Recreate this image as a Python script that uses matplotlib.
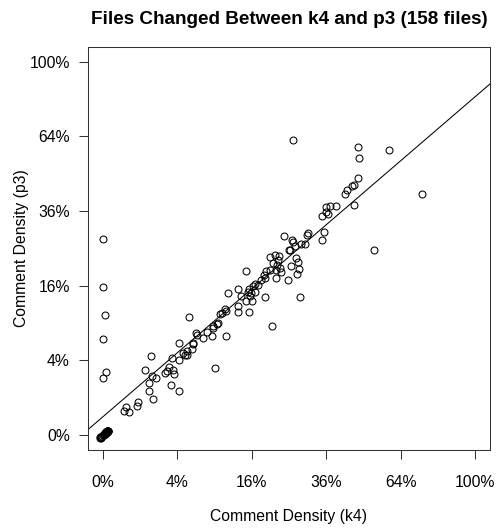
import numpy as np
import matplotlib
matplotlib.use("Agg")
import matplotlib.pyplot as plt

plt.rcParams["font.family"] = ["Liberation Sans", "DejaVu Sans"]

# comment density per file (fraction of lines), k4 vs p3
k4_density = [
    # files with (almost) no comments in either release
    0.0, -0.00004, 0.00003, 0.00008, -0.00002, 0.00012, 0.00005, -0.00006,
    0.00010, 0.00001, 0.00015, -0.00003, 0.00006, 0.00020, 0.00002, -0.00005,
    0.00009, 0.00013, 0.00004, 0.00017, -0.00001, 0.00007, 0.00011, 0.00003,
    0.00018, 0.00006, 0.00014, -0.00004, 0.00009, 0.00002, 0.00016, 0.00008,
    0.00012, 0.00004, 0.00010, 0.00001,
    # comments added in p3
    0.0, 0.0, 0.00002, 0.0, 0.00007, 0.0,
    0.00337, 0.00380, 0.00510, 0.00829, 0.00879,
    0.01286, 0.01518, 0.01563, 0.01699, 0.01723, 0.01794, 0.02041,
    0.02788, 0.03000, 0.03125, 0.03318, 0.03416, 0.03516, 0.03685, 0.04144,
    0.04181, 0.04181,
    0.04669, 0.04903, 0.05063, 0.05143, 0.05307, 0.05683, 0.05811, 0.05898,
    0.0625, 0.06340, 0.07271,
    0.07860, 0.08577, 0.08681, 0.09107, 0.08787, 0.09434, 0.09544, 0.09878,
    0.1016, 0.1085, 0.1097, 0.1091,
    0.1127, 0.1314, 0.1321, 0.1327, 0.1386, 0.1474, 0.1488, 0.1522, 0.1536,
    0.1543, 0.1557, 0.1593, 0.1614, 0.1629, 0.1665, 0.1680, 0.1739, 0.1814,
    0.1867, 0.1891, 0.1898, 0.1930, 0.2009, 0.2025, 0.2065, 0.2090, 0.2131,
    0.2156, 0.2172, 0.2189, 0.2214, 0.2239, 0.2256, 0.2299, 0.2377, 0.2482,
    0.25, 0.2536, 0.2563, 0.2572, 0.2608, 0.2599, 0.2654, 0.2682, 0.2719,
    0.2756, 0.2775, 0.2803, 0.2841, 0.2937, 0.3005, 0.3035, 0.3452, 0.3452,
    0.3515, 0.3579, 0.36, 0.3665, 0.3730, 0.3906, 0.4248, 0.4295, 0.4484,
    0.4556, 0.4556, 0.4702, 0.4714, 0.4739, 0.5308, 0.5896, 0.7332,
]
p3_density = [
    0.0, -0.00003, 0.00002, 0.00006, -0.00005, 0.00010, 0.00003, -0.00004,
    0.00007, 0.00001, 0.00012, -0.00002, 0.00004, 0.00015, 0.00001, -0.00006,
    0.00006, 0.00009, 0.00002, 0.00013, -0.00001, 0.00005, 0.00008, 0.00001,
    0.00014, 0.00004, 0.00010, -0.00003, 0.00007, 0.00001, 0.00012, 0.00005,
    0.00009, 0.00003, 0.00008, 0.0,
    0.2747, 0.1564, 0.1027, 0.0666, 0.0285, 0.0236,
    0.00402, 0.00549, 0.00391, 0.00617, 0.00781,
    0.03063, 0.01940, 0.01410, 0.04440, 0.02469, 0.00913, 0.02331,
    0.02758, 0.02908, 0.03285, 0.01794, 0.04254, 0.03063, 0.02641, 0.04,
    0.01389, 0.06117,
    0.04824, 0.04592, 0.04630, 0.05022, 0.1005, 0.05348, 0.05985, 0.06073,
    0.07465, 0.07223, 0.06751,
    0.07661, 0.07032, 0.08163, 0.03253, 0.08577, 0.08840, 0.09, 0.1050,
    0.1068, 0.1145, 0.06985, 0.1097,
    0.1454, 0.1188, 0.1091, 0.1529, 0.1380, 0.1922, 0.1282, 0.1467, 0.1091,
    0.1529, 0.1380, 0.1447, 0.1295, 0.1586, 0.1636, 0.1460, 0.1621, 0.1731,
    0.1844, 0.1776, 0.1360, 0.1922, 0.1961, 0.2273, 0.08472, 0.2123, 0.2333,
    0.1768, 0.1961, 0.2082, 0.2206, 0.2290, 0.2001, 0.1898, 0.2841, 0.1731,
    0.2447, 0.2464, 0.2049, 0.2738, 0.2663, 0.6230, 0.2554, 0.2239, 0.1867,
    0.2147, 0.1977, 0.1360, 0.2627, 0.2627, 0.2879, 0.2928, 0.2728, 0.3452,
    0.2947, 0.3557, 0.3730, 0.3494, 0.3752, 0.3752, 0.4156, 0.4318, 0.4449,
    0.4496, 0.3806, 0.5951, 0.4727, 0.5505, 0.2456, 0.5828, 0.4179,
]

# least-squares line on the square-root scale
fit_intercept = 0.049
fit_slope = 0.857

tick_values = [0.0, 0.04, 0.16, 0.36, 0.64, 1.0]
tick_labels = ["0%", "4%", "16%", "36%", "64%", "100%"]


def ssqrt(v):
    v = np.asarray(v, dtype=float)
    return np.sign(v) * np.sqrt(np.abs(v))


def ssquare(s):
    s = np.asarray(s, dtype=float)
    return np.sign(s) * s * s


fig = plt.figure(figsize=(4.96, 5.29), dpi=100)
ax = fig.add_axes([0.1774, 0.1493, 0.8105, 0.7624])

ax.set_xscale("function", functions=(ssqrt, ssquare))
ax.set_yscale("function", functions=(ssqrt, ssquare))

ax.plot(k4_density, p3_density, linestyle="none", marker="o",
        markersize=5.0, markerfacecolor="none", markeredgecolor="black",
        markeredgewidth=0.75)

# straight line in sqrt space, drawn through two points
x0, x1 = 0.0, 1.0
y0 = float(ssquare(fit_intercept + fit_slope * np.sqrt(x0)))
y1 = float(ssquare(fit_intercept + fit_slope * np.sqrt(x1)))
ax.axline((x0, y0), (x1, y1), color="black", linewidth=0.75)

lim = (float(ssquare(-0.04)), float(ssquare(1.04)))
ax.set_xlim(lim)
ax.set_ylim(lim)

ax.set_xticks(tick_values)
ax.set_xticklabels(tick_labels)
ax.set_yticks(tick_values)
ax.set_yticklabels(tick_labels)
ax.minorticks_off()
ax.tick_params(axis="both", direction="out", length=6.7, width=0.75,
               labelsize=11.3, color="#333333")
ax.tick_params(axis="x", pad=11)
ax.tick_params(axis="y", pad=6.5)

for sp in ax.spines.values():
    sp.set_linewidth(0.75)
    sp.set_color("#333333")

fig.text(289 / 496, 1 - 516 / 529, "Comment Density (k4)",
         ha="center", va="center", fontsize=11.3)
fig.text(22 / 496, 1 - 248 / 529, "Comment Density (p3)",
         ha="center", va="center", rotation=90, fontsize=11.3)
fig.text(289 / 496, 1 - 19 / 529, "Files Changed Between k4 and p3 (158 files)",
         ha="center", va="center", fontsize=13.6, fontweight="bold")

fig.savefig("out.png", dpi=100, facecolor="white")
